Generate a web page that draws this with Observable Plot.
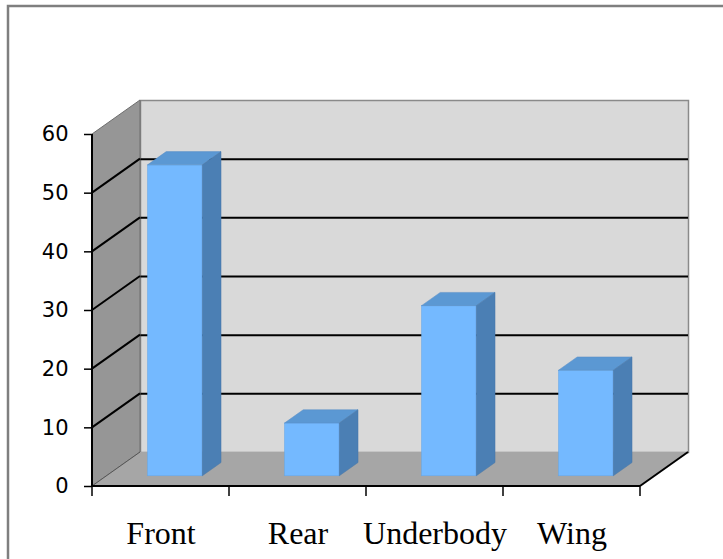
<!DOCTYPE html>
<html>
<head>
<meta charset="utf-8">
<script src="https://cdn.jsdelivr.net/npm/d3@7"></script>
<script src="https://cdn.jsdelivr.net/npm/@observablehq/plot@0.6"></script>
<style>
  html, body { margin: 0; padding: 0; background: #fff; }
  #chart svg { display: block; }
</style>
</head>
<body>
<div id="chart"></div>
<script>
// ---- data ----
const categories = ["Front", "Rear", "Underbody", "Wing"];
const values = [53, 9, 29, 18];
const yTicks = [0, 10, 20, 30, 40, 50, 60];
const gridValues = [10, 20, 30, 40, 50];

const data = categories.map((c, i) => ({category: c, value: values[i]}));

// ---- layout / style ----
const W = 723, H = 559;
const mL = 92, mR = 83, mT = 134, mB = 73;
const DX = 48, DY = -34;          // full depth offset of the 3D box
const barFront = 0.3, barBack = 0.69; // bar depth (fraction of full depth)
const bw = (W - mL - mR) / categories.length;
const barInset = bw * 0.3;

const colFront = "#74b9ff", colTop = "#5b98d3", colSide = "#4b7fb4";

function poly(g, pts, fill, stroke, sw) {
  g.append("path")
    .attr("d", "M" + pts.map(p => p.join(",")).join("L") + "Z")
    .attr("fill", fill)
    .attr("stroke", stroke || "none")
    .attr("stroke-width", sw || 0);
}
function line(g, a, b, stroke, sw) {
  g.append("line")
    .attr("x1", a[0]).attr("y1", a[1]).attr("x2", b[0]).attr("y2", b[1])
    .attr("stroke", stroke).attr("stroke-width", sw);
}

// outer chart-area border
function borderMark(index, scales, values, dim) {
  const g = d3.create("svg:g");
  g.append("rect").attr("x", 8).attr("y", 6).attr("width", dim.width + 40).attr("height", dim.height + 40)
    .attr("fill", "none").attr("stroke", "#7f7f7f").attr("stroke-width", 2.5);
  return g.node();
}

// left wall and floor
function wallsMark(index, scales) {
  const {x, y} = scales;
  const x0 = x(categories[0]), x1 = x(categories[categories.length - 1]) + x.bandwidth();
  const y0 = y(0), y1 = y(60);
  const g = d3.create("svg:g");
  // left wall
  poly(g, [[x0, y0], [x0, y1], [x0 + DX, y1 + DY], [x0 + DX, y0 + DY]], "#969696", "#6e6e6e", 1);
  // floor
  poly(g, [[x0, y0], [x1, y0], [x1 + DX, y0 + DY], [x0 + DX, y0 + DY]], "#a6a6a6", "none");
  line(g, [x0, y0], [x0 + DX, y0 + DY], "#555", 1);
  line(g, [x1, y0], [x1 + DX, y0 + DY], "#000", 2);
  // side-wall gridlines
  for (const v of gridValues) line(g, [x0, y(v)], [x0 + DX, y(v) + DY], "#000", 2);
  // front axis lines
  line(g, [x0, y0], [x1, y0], "#000", 2);
  line(g, [x0, y1], [x0, y0], "#000", 2);
  // category boundary ticks
  const bounds = categories.map(c => x(c)).concat([x1]);
  for (const bx of bounds) line(g, [bx, y0], [bx, y0 + 10], "#000", 1.5);
  return g.node();
}

// bar top and side faces
function barSidesMark(index, scales) {
  const {x, y} = scales;
  const g = d3.create("svg:g");
  for (const d of data) {
    const xl = x(d.category) + barInset + barFront * DX;
    const xr = x(d.category) + x.bandwidth() - barInset + barFront * DX;
    const yt = y(d.value) + barFront * DY;
    const yb = y(0) + barFront * DY;
    const ddx = (barBack - barFront) * DX, ddy = (barBack - barFront) * DY;
    poly(g, [[xl, yt], [xr, yt], [xr + ddx, yt + ddy], [xl + ddx, yt + ddy]], colTop, "#5a8fc6", 0.5);
    poly(g, [[xr, yt], [xr + ddx, yt + ddy], [xr + ddx, yb + ddy], [xr, yb]], colSide, "#4676a8", 0.5);
  }
  return g.node();
}

const chart = Plot.plot({
  width: W,
  height: H,
  marginLeft: mL,
  marginRight: mR,
  marginTop: mT,
  marginBottom: mB,
  x: {type: "band", domain: categories, padding: 0},
  y: {domain: [0, 60]},
  style: {background: "#fff"},
  marks: [
    borderMark,
    // back wall
    Plot.frame({fill: "#d9d9d9", stroke: "#8a8a8a", strokeWidth: 1.5, dx: DX, dy: DY}),
    // back wall gridlines
    Plot.ruleY(gridValues, {stroke: "#000", strokeWidth: 2, dx: DX, dy: DY}),
    wallsMark,
    // bar front faces
    Plot.barY(data, {
      x: "category", y: "value",
      fill: colFront, stroke: "#64a6e6", strokeWidth: 0.5,
      insetLeft: barInset, insetRight: barInset,
      dx: barFront * DX, dy: barFront * DY
    }),
    barSidesMark,
    Plot.axisY({
      ticks: yTicks, tickSize: 8, tickPadding: 16, tickFormat: d => String(d),
      fontSize: 21, fontFamily: "DejaVu Sans", stroke: "#000", strokeWidth: 1.5, fill: "#000",
      label: null
    }),
    Plot.axisX({
      tickSize: 0, tickPadding: 34.5,
      fontSize: 32, fontFamily: "Liberation Serif", fill: "#000",
      label: null
    })
  ]
});

document.getElementById("chart").appendChild(chart);
</script>
</body>
</html>
